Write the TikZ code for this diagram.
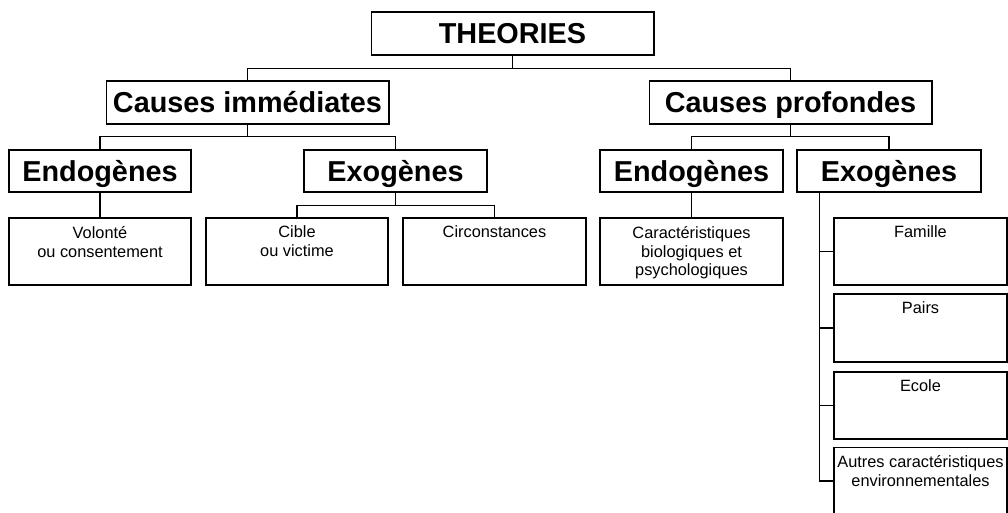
\documentclass[tikz,border=0pt]{standalone}
\usepackage{fontspec}
\setmainfont{Liberation Sans}
\usepackage{tikz}
\usetikzlibrary{calc}

\begin{document}
\begin{tikzpicture}[x=0.02cm,y=-0.02cm,line width=0.6pt,
  titre/.style={draw,inner sep=0pt,font=\bfseries\fontsize{16.4}{19}\selectfont,
    text height=11.7pt,text depth=0pt},
  case/.style={draw,inner sep=0pt,minimum height=1.34cm},
  texte/.style={inner sep=0pt,align=center,font=\fontsize{9.3}{10.8}\selectfont}]
\clip (0,0) rectangle (1008,512);

% niveau 1 et 2
\node[titre,minimum width=5.66cm,minimum height=0.86cm] (theo) at (512.5,33.5) {THEORIES};
\node[titre,minimum width=5.66cm,minimum height=0.86cm] (cim) at (247.5,102.5) {Causes immédiates};
\node[titre,minimum width=5.66cm,minimum height=0.86cm] (cpr) at (790.5,102.5) {Causes profondes};

% niveau 3
\node[titre,minimum width=3.64cm,minimum height=0.84cm] (endo1) at (100,171) {Endogènes};
\node[titre,minimum width=3.66cm,minimum height=0.84cm] (exo1) at (395.5,171) {Exogènes};
\node[titre,minimum width=3.66cm,minimum height=0.84cm] (endo2) at (691.5,171) {Endogènes};
\node[titre,minimum width=3.68cm,minimum height=0.84cm] (exo2) at (889,171) {Exogènes};

% cases du bas
\node[case,minimum width=3.64cm] (vol) at (100,251.5) {};
\node[case,minimum width=3.64cm] (cib) at (297,251.5) {};
\node[case,minimum width=3.66cm] (cir) at (494.5,251.5) {};
\node[case,minimum width=3.66cm] (car) at (691.5,251.5) {};
\node[case,minimum width=3.46cm] (fam) at (920.5,251.5) {};
\node[case,minimum width=3.46cm,minimum height=1.36cm] (pai) at (920.5,328) {};
\node[case,minimum width=3.46cm] (eco) at (920.5,405.5) {};
\node[case,minimum width=3.46cm] (aut) at (920.5,481) {};

\node[texte,below=0.16cm] (tvol) at (vol.north) {Volonté\\ou consentement};
\node[texte,below=0.16cm] (tcib) at (cib.north) {Cible\\ou victime};
\node[texte,below=0.16cm] (tcir) at (cir.north) {Circonstances};
\node[texte,below=0.16cm] (tcar) at (car.north) {Caractéristiques\\biologiques et\\psychologiques};
\node[texte,below=0.16cm] (tfam) at (fam.north) {Famille};
\node[texte,below=0.16cm] (tpai) at (pai.north) {Pairs};
\node[texte,below=0.16cm] (teco) at (eco.north) {Ecole};
\node[texte,below=0.16cm] (taut) at (aut.north) {Autres caractéristiques\\environnementales};

% liaisons
\draw (theo.south) -- ++(0,12.5) coordinate (t1);
\draw (cim.north) |- (t1) -| (cpr.north);
\draw (cim.south) -- ++(0,12) coordinate (t2);
\draw (endo1.north) |- (t2) -| (exo1.north);
\draw (cpr.south) -- ++(0,12) coordinate (t3);
\draw (endo2.north) |- (t3) -| (exo2.north);
\draw (exo1.south) -- ++(0,13) coordinate (t4);
\draw (cib.north) |- (t4) -| (cir.north);
\draw (endo1.south) -- (vol.north);
\draw (endo2.south) -- (car.north);
\coordinate (e2) at ([xshift=0.46cm]exo2.south west);
\draw (e2) |- (aut.west);
\foreach \n in {fam,pai,eco}
  \draw (\n.west) -- (\n.west -| e2);

\end{tikzpicture}
\end{document}
